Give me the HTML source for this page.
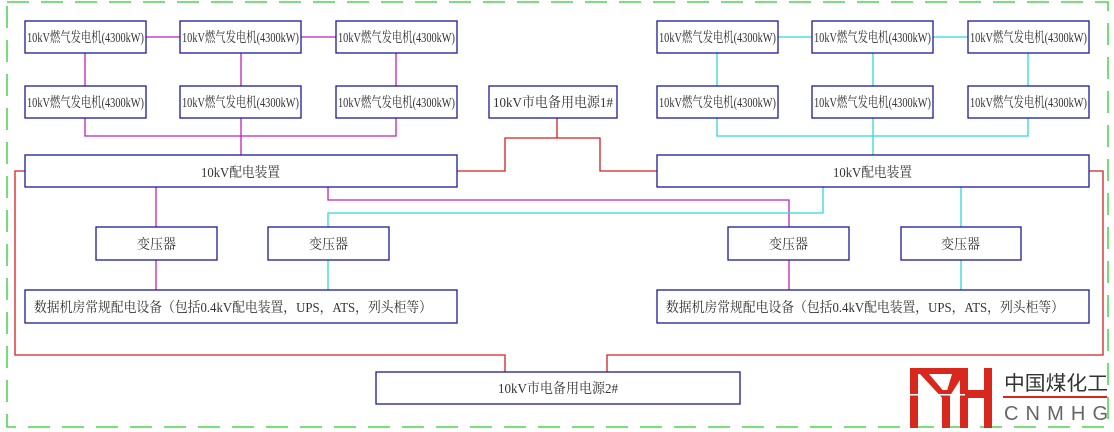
<!DOCTYPE html>
<html><head><meta charset="utf-8"><style>
html,body{margin:0;padding:0;background:#fff;}
svg{display:block}
text{font-family:"Liberation Serif","Noto Serif CJK SC",serif;fill:#333;font-size:14px;}
</style></head><body>
<svg width="1114" height="432" viewBox="0 0 1114 432" xmlns="http://www.w3.org/2000/svg">
<rect x="7" y="2" width="1101" height="425" fill="none" stroke="#2ecc2e" stroke-width="1.3" stroke-dasharray="22,12"/>
<g fill="none" stroke-width="1.3">
<g stroke="#c020c0">
<line x1="146" y1="37" x2="180" y2="37"/><line x1="301" y1="37" x2="336" y2="37"/>
<line x1="85" y1="53" x2="85" y2="86"/><line x1="241" y1="53" x2="241" y2="86"/><line x1="396" y1="53" x2="396" y2="86"/>
<polyline points="85,118 85,136 396,136 396,118"/><line x1="241" y1="118" x2="241" y2="155"/>
<line x1="156" y1="187" x2="156" y2="227"/><line x1="156" y1="260" x2="156" y2="290"/>
<polyline points="328,187 328,200 789,200 789,227"/><line x1="789" y1="260" x2="789" y2="290"/>
</g>
<g stroke="#30d8d8">
<line x1="778" y1="37" x2="812" y2="37"/><line x1="933" y1="37" x2="968" y2="37"/>
<line x1="717" y1="53" x2="717" y2="86"/><line x1="873" y1="53" x2="873" y2="86"/><line x1="1028" y1="53" x2="1028" y2="86"/>
<polyline points="717,118 717,136 1028,136 1028,118"/><line x1="873" y1="118" x2="873" y2="155"/>
<polyline points="823,187 823,213 328,213 328,227"/><line x1="328" y1="260" x2="328" y2="290"/>
<line x1="961" y1="187" x2="961" y2="227"/><line x1="961" y1="260" x2="961" y2="290"/>
</g>
<g stroke="#d02020">
<polyline points="457,171 505,171 505,138 600,138 600,171 657,171"/>
<line x1="557" y1="118" x2="557" y2="138"/>
<polyline points="25,171 15,171 15,355 505,355 505,372"/>
<polyline points="1089,171 1103,171 1103,355 607,355 607,372"/>
</g>
<g stroke="#1a1a9a" fill="#fff">
<rect x="25" y="21" width="121" height="32"/><rect x="180" y="21" width="121" height="32"/><rect x="336" y="21" width="121" height="32"/>
<rect x="25" y="86" width="121" height="32"/><rect x="180" y="86" width="121" height="32"/><rect x="336" y="86" width="121" height="32"/>
<rect x="657" y="21" width="121" height="32"/><rect x="812" y="21" width="121" height="32"/><rect x="968" y="21" width="121" height="32"/>
<rect x="657" y="86" width="121" height="32"/><rect x="812" y="86" width="121" height="32"/><rect x="968" y="86" width="121" height="32"/>
<rect x="489" y="86" width="128" height="32"/>
<rect x="25" y="155" width="432" height="32"/><rect x="657" y="155" width="432" height="32"/>
<rect x="96" y="227" width="121" height="33"/><rect x="268" y="227" width="121" height="33"/>
<rect x="728" y="227" width="121" height="33"/><rect x="901" y="227" width="120" height="33"/>
<rect x="25" y="290" width="432" height="33"/><rect x="657" y="290" width="432" height="33"/>
<rect x="376" y="372" width="364" height="32"/>
</g>
</g>
<g>
<text x="27" y="42" textLength="117" lengthAdjust="spacingAndGlyphs">10kV燃气发电机(4300kW)</text>
<text x="182" y="42" textLength="117" lengthAdjust="spacingAndGlyphs">10kV燃气发电机(4300kW)</text>
<text x="338" y="42" textLength="117" lengthAdjust="spacingAndGlyphs">10kV燃气发电机(4300kW)</text>
<text x="27" y="107" textLength="117" lengthAdjust="spacingAndGlyphs">10kV燃气发电机(4300kW)</text>
<text x="182" y="107" textLength="117" lengthAdjust="spacingAndGlyphs">10kV燃气发电机(4300kW)</text>
<text x="338" y="107" textLength="117" lengthAdjust="spacingAndGlyphs">10kV燃气发电机(4300kW)</text>
<text x="659" y="42" textLength="117" lengthAdjust="spacingAndGlyphs">10kV燃气发电机(4300kW)</text>
<text x="814" y="42" textLength="117" lengthAdjust="spacingAndGlyphs">10kV燃气发电机(4300kW)</text>
<text x="970" y="42" textLength="117" lengthAdjust="spacingAndGlyphs">10kV燃气发电机(4300kW)</text>
<text x="659" y="107" textLength="117" lengthAdjust="spacingAndGlyphs">10kV燃气发电机(4300kW)</text>
<text x="814" y="107" textLength="117" lengthAdjust="spacingAndGlyphs">10kV燃气发电机(4300kW)</text>
<text x="970" y="107" textLength="117" lengthAdjust="spacingAndGlyphs">10kV燃气发电机(4300kW)</text>
<text x="493" y="107" textLength="120" lengthAdjust="spacingAndGlyphs">10kV市电备用电源1#</text>
<text x="201" y="177" textLength="79" lengthAdjust="spacingAndGlyphs">10kV配电装置</text>
<text x="833" y="177" textLength="79" lengthAdjust="spacingAndGlyphs">10kV配电装置</text>
<text x="137" y="249" textLength="39" lengthAdjust="spacingAndGlyphs">变压器</text>
<text x="309" y="249" textLength="39" lengthAdjust="spacingAndGlyphs">变压器</text>
<text x="769" y="249" textLength="39" lengthAdjust="spacingAndGlyphs">变压器</text>
<text x="941" y="249" textLength="39" lengthAdjust="spacingAndGlyphs">变压器</text>
<text x="34" y="312" textLength="398" lengthAdjust="spacingAndGlyphs">数据机房常规配电设备（包括0.4kV配电装置，UPS，ATS，列头柜等）</text>
<text x="666" y="312" textLength="398" lengthAdjust="spacingAndGlyphs">数据机房常规配电设备（包括0.4kV配电装置，UPS，ATS，列头柜等）</text>
<text x="498" y="393" textLength="120" lengthAdjust="spacingAndGlyphs">10kV市电备用电源2#</text>
</g>
<!-- logo -->
<g fill="#d8281e">
<rect x="910" y="368" width="50" height="6"/>
<rect x="910" y="368" width="8" height="60"/>
<rect x="942" y="390" width="8" height="38"/>
<polygon points="920,374 929,374 946,394 946,402"/>
<polygon points="960,374 960,380 946,402 946,394 952,374"/>
<rect x="960" y="368" width="8" height="60"/>
<rect x="984" y="368" width="8" height="60"/>
<rect x="960" y="390" width="32" height="8"/>
<rect x="1003" y="396" width="104" height="2"/>
</g>
<rect x="905" y="394" width="60" height="1.5" fill="#fff"/>
<text x="1004" y="390" style="font-family:'Liberation Sans','Noto Sans CJK SC',sans-serif;font-size:20px;fill:#333" textLength="104" lengthAdjust="spacingAndGlyphs">中国煤化工</text>
<text x="1004" y="420" style="font-family:'Liberation Sans',sans-serif;font-size:20px;fill:#666" textLength="104" lengthAdjust="spacing">CNMHG</text>
</svg>
</body></html>
